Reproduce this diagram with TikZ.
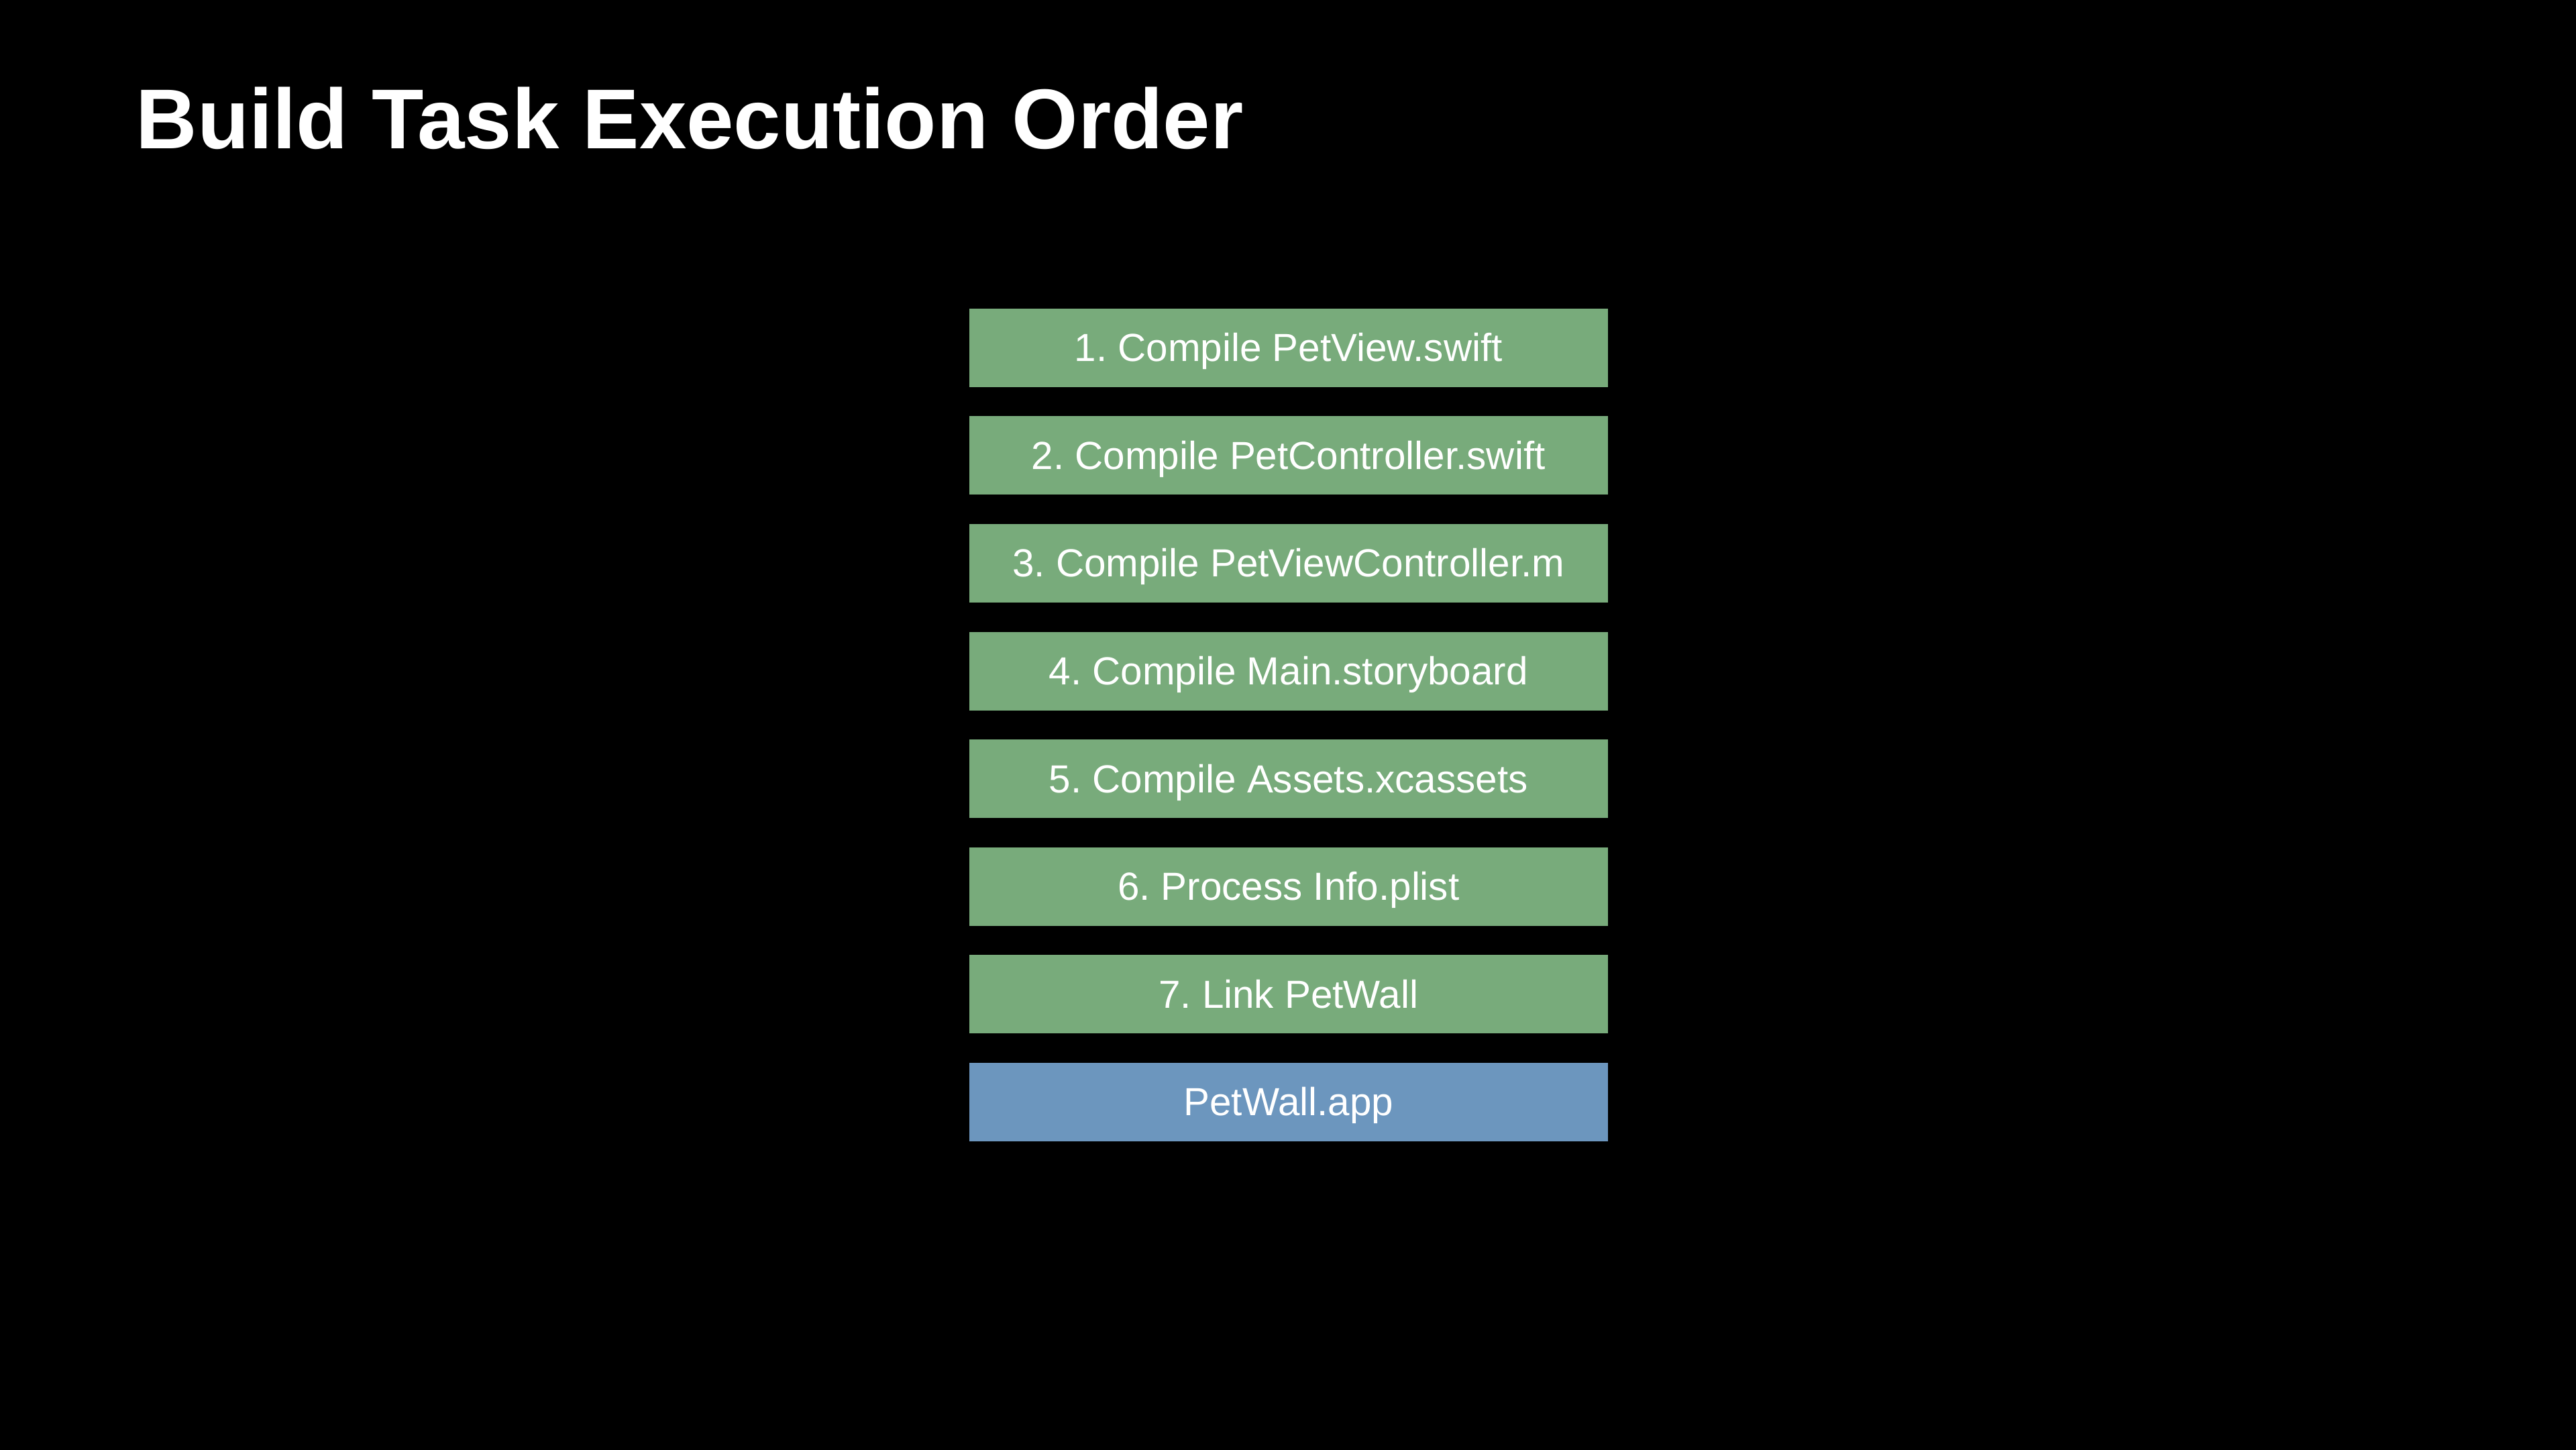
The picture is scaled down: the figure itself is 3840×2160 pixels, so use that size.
\documentclass[tikz,border=0pt]{standalone}
\usepackage{fontspec}
\setmainfont{Liberation Sans}
\frenchspacing
\definecolor{taskgreen}{RGB}{120,171,123}
\definecolor{appblue}{RGB}{108,150,190}
\begin{document}
\begin{tikzpicture}[x=0.01cm,y=-0.01cm,
  taskbox/.style={fill=taskgreen, draw=none, minimum width=952*0.01cm, minimum height=117*0.01cm, inner sep=0pt, text height=0.79cm, text depth=0.38cm, text=white, font=\fontsize{16.6}{18}\selectfont, anchor=north west},
  appbox/.style={taskbox, fill=appblue}]
\useasboundingbox (0,0) rectangle (3840,2160);
\fill[black] (-20,-20) rectangle (3860,2180);
\node[anchor=base west, text=white, inner sep=0pt, font=\fontsize{36}{42}\selectfont\bfseries] (title) at (202,221) {Build Task Execution Order};
\node[taskbox] (t1) at (1444,459) {1. Compile PetView.swift};
\node[taskbox] (t2) at (1444,619.6) {2. Compile PetController.swift};
\node[taskbox] (t3) at (1444,780.2) {3. Compile PetViewController.m};
\node[taskbox] (t4) at (1444,940.8) {4. Compile Main.storyboard};
\node[taskbox] (t5) at (1444,1101.4) {5. Compile Assets.xcassets};
\node[taskbox] (t6) at (1444,1262) {6. Process Info.plist};
\node[taskbox] (t7) at (1444,1422.6) {7. Link PetWall};
\node[appbox] (app) at (1444,1583.2) {PetWall.app};
\end{tikzpicture}
\end{document}
